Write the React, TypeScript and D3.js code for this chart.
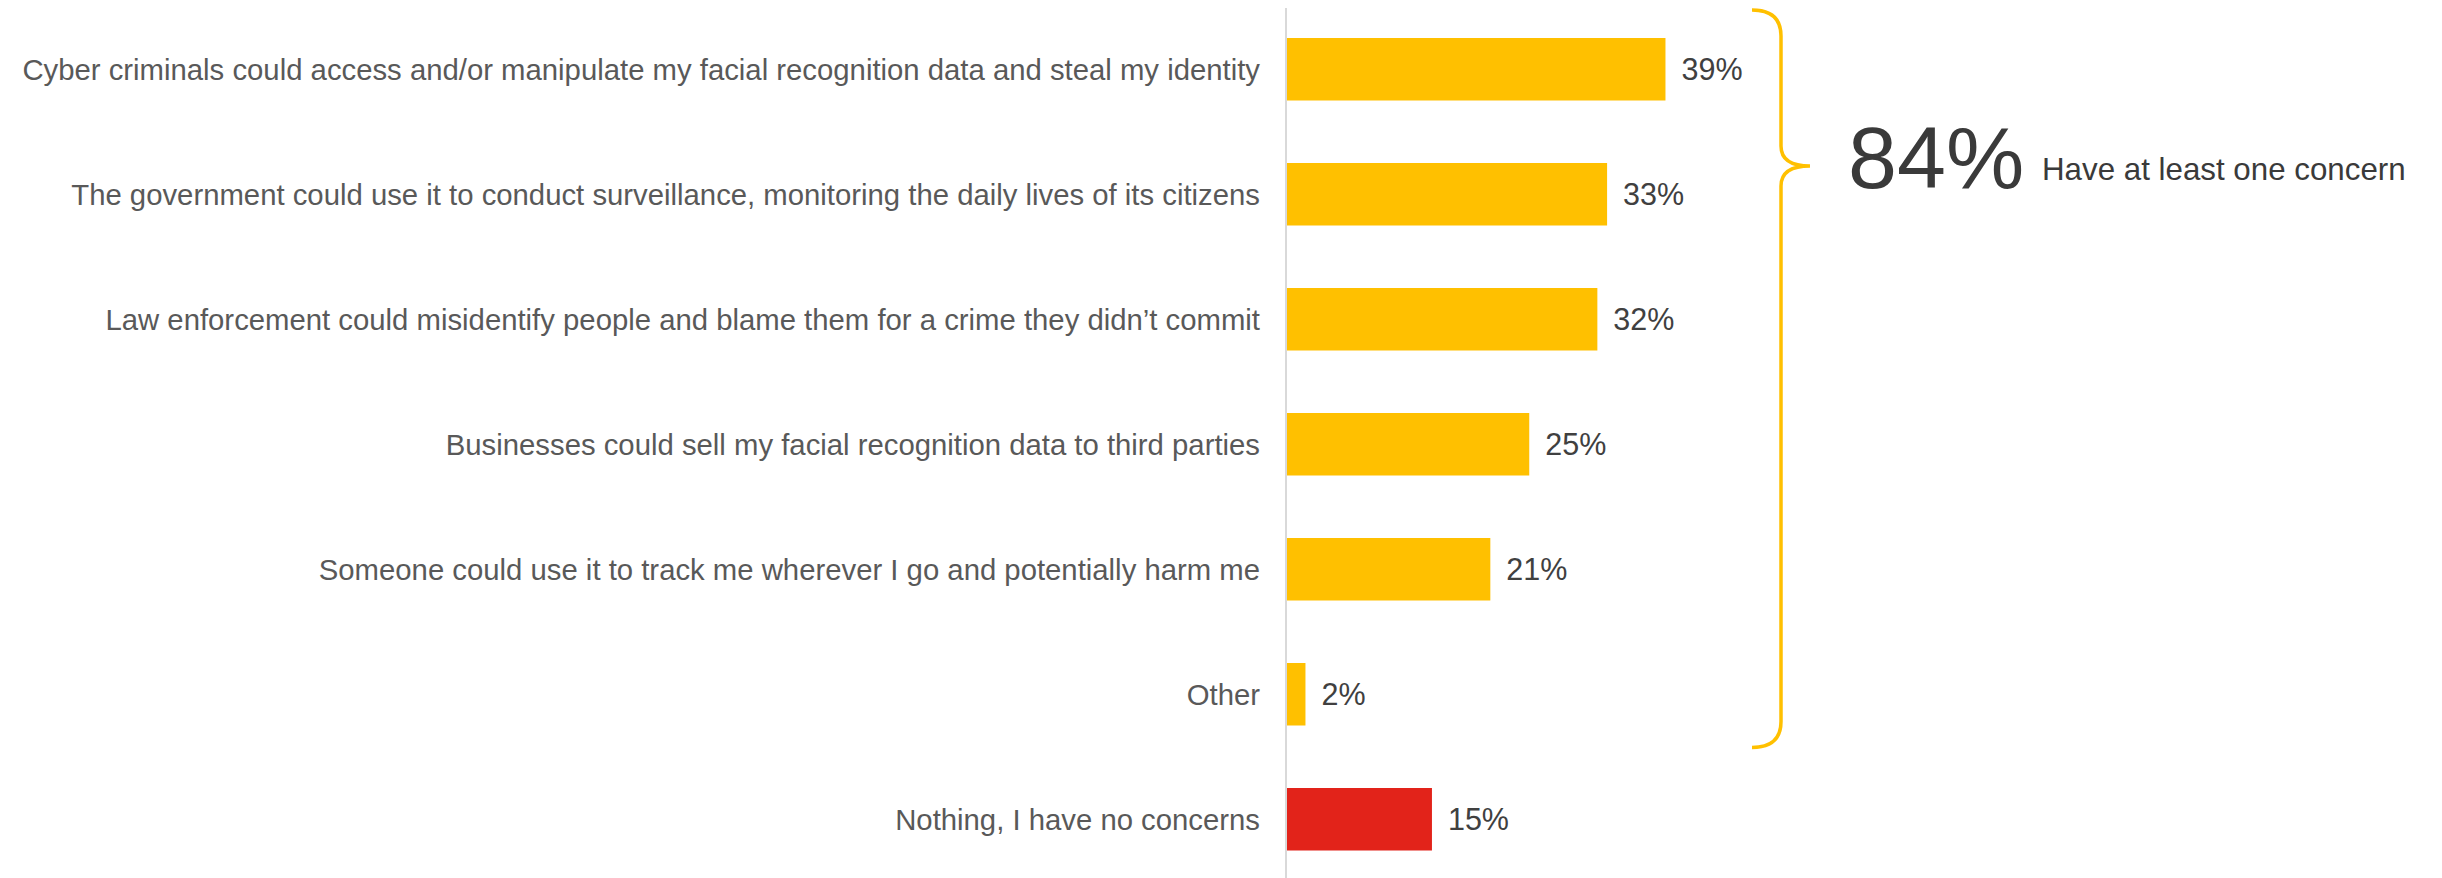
import React, { useEffect } from "react";
import * as d3 from "d3";

const categories: string[] = [
  "Cyber criminals could access and/or manipulate my facial recognition data and steal my identity",
  "The government could use it to conduct surveillance, monitoring the daily lives of its citizens",
  "Law enforcement could misidentify people and blame them for a crime they didn\u2019t commit",
  "Businesses could sell my facial recognition data to third parties",
  "Someone could use it to track me wherever I go and potentially harm me",
  "Other",
  "Nothing, I have no concerns",
];
const values: number[] = [39, 33, 32, 25, 21, 2, 15];
const valueLabels: string[] = ["39%", "33%", "32%", "25%", "21%", "2%", "15%"];
const isConcern: boolean[] = [true, true, true, true, true, true, false];
const summaryValue = "84%";
const summaryText = "Have at least one concern";

const W = 2442;
const H = 878;
const YELLOW = "#FFC000";
const RED = "#E2231A";
const FONT = "'Liberation Sans', Arial, sans-serif";

export default function App() {
  useEffect(() => {
    document.body.style.margin = "0";
  }, []);

  const x = d3.scaleLinear().domain([0, 100]).range([1286, 1286 + 973]);
  const y = d3
    .scaleBand<string>()
    .domain(categories)
    .range([6.75, 881.75])
    .paddingInner(0.5)
    .paddingOuter(0.25);
  const bw = y.bandwidth();

  // brace
  const concernCats = categories.filter((_, i) => isConcern[i]);
  const yTop = (y(concernCats[0]) as number) - 28;
  const yBot = (y(concernCats[concernCats.length - 1]) as number) + bw + 22;
  const yTip = 166;
  const xEnd = 1752;
  const xv = 1781;
  const xt = 1810;
  const r = 26;
  const rt = 20;
  const brace = d3.path();
  brace.moveTo(xEnd, yTop);
  brace.quadraticCurveTo(xv, yTop, xv, yTop + r);
  brace.lineTo(xv, yTip - rt);
  brace.quadraticCurveTo(xv, yTip, xt, yTip);
  brace.quadraticCurveTo(xv, yTip, xv, yTip + rt);
  brace.lineTo(xv, yBot - r);
  brace.quadraticCurveTo(xv, yBot, xEnd, yBot);

  return (
    <svg
      width={W}
      height={H}
      style={{ display: "block", position: "absolute", left: 0, top: 0, background: "#fff" }}
      fontFamily={FONT}
    >
      <rect x={0} y={0} width={W} height={H} fill="#fff" />
      {categories.map((c, i) => {
        const yy = y(c) as number;
        return (
          <g key={c}>
            <rect
              x={x(0)}
              y={yy}
              width={x(values[i]) - x(0)}
              height={bw}
              fill={isConcern[i] ? YELLOW : RED}
            />
            <text
              x={1260}
              y={yy + bw / 2}
              dy="0.35em"
              textAnchor="end"
              fontSize={29.3}
              fill="#595959"
            >
              {c}
            </text>
            <text
              x={x(values[i]) + 16}
              y={yy + bw / 2}
              dy="0.35em"
              fontSize={30.5}
              fill="#404040"
            >
              {valueLabels[i]}
            </text>
          </g>
        );
      })}
      <line x1={x(0)} x2={x(0)} y1={8} y2={H} stroke="#d9d9d9" strokeWidth={2} />
      <path d={brace.toString()} fill="none" stroke={YELLOW} strokeWidth={3.5} />
      <text x={1848} y={188} fontSize={88} fill="#3a3a3a">
        {summaryValue}
      </text>
      <text x={2042} y={180} fontSize={31.3} fill="#3a3a3a">
        {summaryText}
      </text>
    </svg>
  );
}
